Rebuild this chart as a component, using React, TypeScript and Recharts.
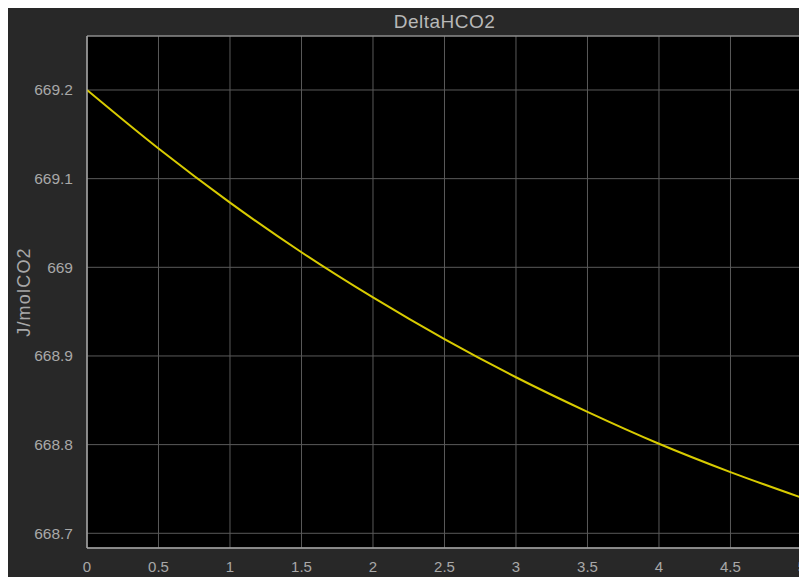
import React from "react";
import { LineChart, Line, XAxis, YAxis, CartesianGrid, ReferenceArea } from "recharts";

const timeValues = [0, 0.5, 1, 1.5, 2, 2.5, 3, 3.5, 4, 4.5, 5];
const deltaHCO2 = [669.2, 669.134, 669.073, 669.017, 668.966, 668.919, 668.876, 668.837, 668.801, 668.769, 668.74];
const xTicks = [0, 0.5, 1, 1.5, 2, 2.5, 3, 3.5, 4, 4.5, 5];
const yTicks = [668.7, 668.8, 668.9, 669, 669.1, 669.2];
const yDomain = [668.6834, 669.2609];
const xDomain = [0, 5.0002];

const data = timeValues.map((t, i) => ({ t, v: deltaHCO2[i] }));

const font = "'Liberation Sans', Arial, sans-serif";
const textColor = "#a8a8a8";

const XTick = (props: any) => {
  const { x, y, payload } = props;
  return (
    <g>
      <text x={x} y={y + 18} textAnchor="middle" fill={textColor} fontSize={15} fontFamily={font}>
        {String(payload.value)}
      </text>
    </g>
  );
};

export default function App() {
  return (
    <div
      style={{
        width: 799,
        height: 569,
        background: "#282828",
        position: "relative",
        overflow: "hidden",
        fontFamily: font,
      }}
    >
      <style>{"html, body { overflow: hidden; }"}</style>
      <div
        style={{
          position: "absolute",
          left: 79,
          width: 715,
          top: 3,
          textAlign: "center",
          color: "#b8b8b8",
          fontSize: 19,
          letterSpacing: 0.5,
          zIndex: 1,
        }}
      >
        DeltaHCO2
      </div>
      <LineChart width={799} height={569} data={data} margin={{ top: 28, right: 5, left: 0, bottom: 0 }}>
        <CartesianGrid stroke="#5a5a5a" strokeWidth={1} fill="#000000" fillOpacity={1} />
        <XAxis
          dataKey="t"
          type="number"
          domain={xDomain}
          ticks={xTicks}
          interval={0}
          height={29}
          tickLine={false}
          axisLine={{ stroke: "#a6a6a6" }}
          tick={XTick}
          tickMargin={0}
          allowDataOverflow
        />
        <YAxis
          type="number"
          domain={yDomain}
          ticks={yTicks}
          interval={0}
          width={79}
          tickLine={false}
          axisLine={{ stroke: "#a6a6a6" }}
          tick={{ fill: textColor, fontSize: 15.5, fontFamily: font }}
          tickMargin={8}
          allowDataOverflow
          label={{
            value: "J/molCO2",
            angle: -90,
            position: "insideLeft",
            offset: 16,
            style: { fill: textColor, fontSize: 18, letterSpacing: 1.2, fontFamily: font, textAnchor: "middle" },
          }}
        />
        <ReferenceArea
          x1={xDomain[0]}
          x2={xDomain[1]}
          y1={yDomain[0]}
          y2={yDomain[1]}
          fill="none"
          fillOpacity={0}
          stroke="#a6a6a6"
          strokeWidth={1}
          ifOverflow="visible"
        />
        <Line
          type="monotone"
          dataKey="v"
          stroke="#d8cb00"
          strokeWidth={2}
          dot={false}
          isAnimationActive={false}
        />
      </LineChart>
    </div>
  );
}
